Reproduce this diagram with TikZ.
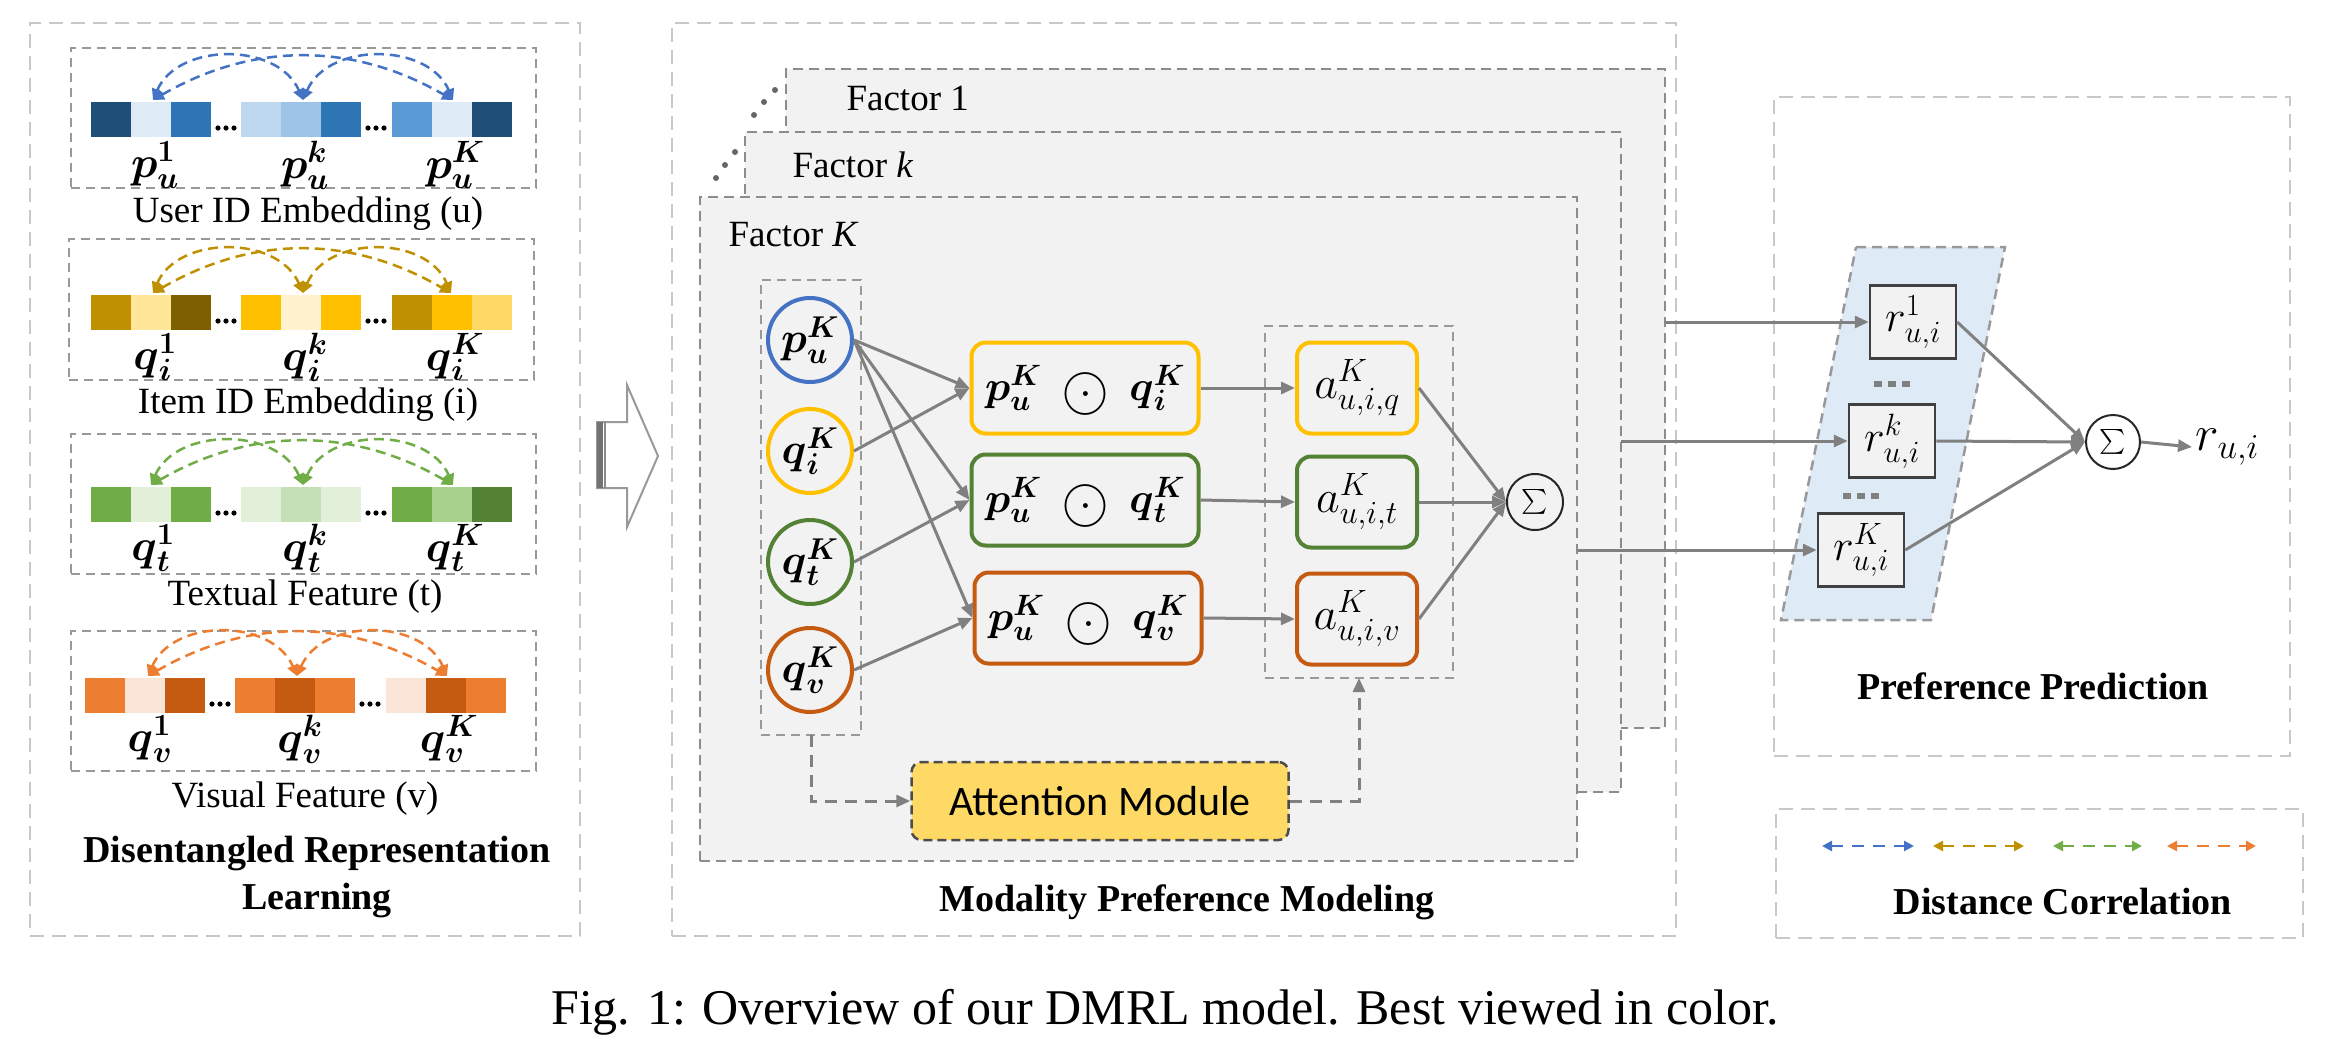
\RequirePackage{fix-cm}
\documentclass[tikz,border=0pt]{standalone}
\usepackage{amsmath}
\usepackage{fontspec}
\setmainfont{Liberation Serif}
\newfontfamily\attnfont{Carlito}
\usetikzlibrary{arrows.meta,calc}

\definecolor{blueA}{HTML}{4472C4}
\definecolor{navy}{HTML}{1F4E79}
\definecolor{blueM}{HTML}{2E75B6}
\definecolor{blueLL}{HTML}{DEEBF7}
\definecolor{blueL}{HTML}{BDD7EE}
\definecolor{blueL3}{HTML}{9DC3E6}
\definecolor{blueM2}{HTML}{5B9BD5}
\definecolor{goldD}{HTML}{BF9000}
\definecolor{goldY}{HTML}{FFC000}
\definecolor{goldL}{HTML}{FFE699}
\definecolor{goldLL}{HTML}{FFF2CC}
\definecolor{goldDD}{HTML}{7F6000}
\definecolor{goldM}{HTML}{FFD966}
\definecolor{grnA}{HTML}{70AD47}
\definecolor{grnLL}{HTML}{E2F0D9}
\definecolor{grnL}{HTML}{C5E0B4}
\definecolor{grnM}{HTML}{A9D18E}
\definecolor{grnD}{HTML}{548235}
\definecolor{orA}{HTML}{ED7D31}
\definecolor{orLL}{HTML}{FBE5D6}
\definecolor{orD}{HTML}{C55A11}
\definecolor{lineg}{HTML}{808080}
\definecolor{dashg}{HTML}{999999}
\definecolor{panelg}{HTML}{C8C8C8}
\definecolor{factfill}{HTML}{F2F2F2}
\definecolor{factdraw}{HTML}{8C8C8C}
\definecolor{attfill}{HTML}{FFD966}

\newcommand{\bsym}[3]{\boldsymbol{#1}_{\boldsymbol{#2}}^{\boldsymbol{#3}}}
\newcommand{\fsz}[1]{\fontsize{#1}{#1}\selectfont}
\newcommand{\bigdotcirc}{\mathbin{\vcenter{\hbox{\fsz{46}\ooalign{$\bigcirc$\cr\hidewidth$\cdot$\hidewidth\cr}}}}}
\newcommand{\blockrow}[3]{%
  \foreach \cc [count=\ii from 0] in {#3} {
    \pgfmathsetmacro{\xx}{#2 + 40*\ii + (\ii>2)*30 + (\ii>5)*31}
    \fill[\cc] (\xx,#1) rectangle ++(40,35);
  }
  \pgfmathsetmacro{\dA}{#2+135}
  \pgfmathsetmacro{\dB}{#2+285}
  \foreach \dd in {-8,0,8} {
    \fill[black] (\dA+\dd,#1+26) circle (2.6pt);
    \fill[black] (\dB+\dd,#1+26) circle (2.6pt);
  }
}

\begin{document}
\begin{tikzpicture}[x=1pt,y=-1pt,
  panel/.style={draw=panelg,line width=2pt,dash pattern=on 14pt off 8pt,inner sep=0pt,outer sep=0pt},
  subbox/.style={draw=dashg,line width=2.5pt,dash pattern=on 9pt off 6pt,inner sep=0pt,outer sep=0pt},
  factbox/.style={draw=factdraw,fill=factfill,line width=2.5pt,dash pattern=on 10pt off 6pt,inner sep=0pt,outer sep=0pt},
  arcline/.style={line width=2.5pt,dash pattern=on 10pt off 6pt,{Triangle[length=11pt,width=11pt]}-{Triangle[length=11pt,width=11pt]}},
  circ/.style={circle,line width=4pt,minimum size=84pt,inner sep=0pt,font=\fsz{43}},
  prodbox/.style={rounded corners=14pt,line width=4pt,minimum width=227pt,minimum height=91pt,inner sep=0pt,font=\fsz{42}},
  abox/.style={rounded corners=14pt,line width=4pt,minimum width=120pt,minimum height=91pt,inner sep=0pt,font=\fsz{46}},
  rbox/.style={draw=black!75,fill=factfill,line width=2.5pt,minimum width=86pt,minimum height=73pt,inner sep=0pt,font=\fsz{44}},
  sigma/.style={circle,draw=black!85,line width=2pt,inner sep=0pt,font=\fsz{32}},
  garrow/.style={draw=lineg,line width=3pt,-{Triangle[length=14pt,width=12pt]}},
  gdash/.style={draw=lineg,line width=3pt,dash pattern=on 12pt off 8pt,-{Triangle[length=14pt,width=12pt]}},
  legarrow/.style={line width=2.5pt,dash pattern=on 12pt off 9pt,{Triangle[length=10pt,width=10pt]}-{Triangle[length=10pt,width=10pt]}},
  title/.style={font=\fontsize{38}{47}\selectfont\bfseries,align=center},
  rowcap/.style={font=\fsz{37},inner sep=0pt},
  emblabel/.style={font=\fsz{44},inner sep=0pt}
]
\useasboundingbox (0,0) rectangle (2330,1050);
\fill[white] (0,0) rectangle (2330,1050);

% ================= LEFT PANEL =================
\node[panel,minimum width=550pt,minimum height=913pt] (lp) at (305,479.5) {};
\node[subbox,minimum width=465pt,minimum height=140pt] (sb1) at (303.5,118) {};
\node[subbox,minimum width=465pt,minimum height=141pt] (sb2) at (301.5,309.5) {};
\node[subbox,minimum width=465pt,minimum height=140pt] (sb3) at (303.5,504) {};
\node[subbox,minimum width=465pt,minimum height=140pt] (sb4) at (303.5,701) {};

\blockrow{102}{91}{navy,blueLL,blueM,blueL,blueL3,blueM,blueM2,blueLL,navy}
\blockrow{295}{91}{goldD,goldL,goldDD,goldY,goldLL,goldY,goldD,goldY,goldM}
\blockrow{487}{91}{grnA,grnLL,grnA,grnLL,grnL,grnLL,grnA,grnM,grnD}
\blockrow{678}{85}{orA,orLL,orD,orA,orD,orA,orLL,orD,orA}

% arc end points
\coordinate (u1) at (153,100); \coordinate (uk) at (303,100); \coordinate (uK) at (453,100);
\coordinate (i1) at (153,293); \coordinate (ik) at (303,293); \coordinate (iK) at (451,293);
\coordinate (t1) at (151,485); \coordinate (tk) at (303,485); \coordinate (tK) at (453,485);
\coordinate (v1) at (148,676); \coordinate (vk) at (297,676); \coordinate (vK) at (447,676);
\foreach \r/\col in {u/blueA,i/goldD,t/grnA,v/orA} {
  \draw[arcline,\col] (\r1) .. controls ($(\r1)+(25,-58)$) and ($(\r k)+(-25,-58)$) .. (\r k);
  \draw[arcline,\col] (\r k) .. controls ($(\r k)+(25,-58)$) and ($(\r K)+(-25,-58)$) .. (\r K);
  \draw[arcline,\col] (\r1) .. controls ($(\r1)+(100,-58)$) and ($(\r K)+(-100,-58)$) .. (\r K);
}

\node[emblabel] (lu1) at (155,165) {$\bsym{p}{u}{1}$};
\node[emblabel] (luk) at (305,165) {$\bsym{p}{u}{k}$};
\node[emblabel] (luK) at (455,165) {$\bsym{p}{u}{K}$};
\node[emblabel] (li1) at (155,357) {$\bsym{q}{i}{1}$};
\node[emblabel] (lik) at (305,357) {$\bsym{q}{i}{k}$};
\node[emblabel] (liK) at (455,357) {$\bsym{q}{i}{K}$};
\node[emblabel] (lt1) at (153,548) {$\bsym{q}{t}{1}$};
\node[emblabel] (ltk) at (305,548) {$\bsym{q}{t}{k}$};
\node[emblabel] (ltK) at (455,548) {$\bsym{q}{t}{K}$};
\node[emblabel] (lv1) at (150,739) {$\bsym{q}{v}{1}$};
\node[emblabel] (lvk) at (300,739) {$\bsym{q}{v}{k}$};
\node[emblabel] (lvK) at (449,739) {$\bsym{q}{v}{K}$};

\node[rowcap] (c1) at (308,214) {User ID Embedding (u)};
\node[rowcap] (c2) at (308,405) {Item ID Embedding (i)};
\node[rowcap] (c3) at (305,597) {Textual Feature (t)};
\node[rowcap] (c4) at (305,799) {Visual Feature (v)};
\node[title] (ltitle) at (317,877) {Disentangled Representation\\Learning};

% hollow arrow
\filldraw[fill=white,draw=dashg,line width=2pt,line join=miter]
  (597,422) -- (627,422) -- (627,385) -- (658,456) -- (627,527) -- (627,488) -- (597,488) -- cycle;
\fill[black!55] (597,422) rectangle (603,488);
\fill[black!45] (604,422) rectangle (606,488);

% ================= MIDDLE PANEL =================
\node[panel,minimum width=1004pt,minimum height=913pt] (mp) at (1174,479.5) {};
\node[factbox,minimum width=879pt,minimum height=659pt] (f1) at (1225.5,398.5) {};
\node[factbox,minimum width=876pt,minimum height=660pt] (fk) at (1183,462) {};
\node[factbox,minimum width=877pt,minimum height=664pt] (fK) at (1138.5,529) {};
\foreach \px/\py in {754/115,764/102,775/90,716/178,725/165,735/152}
  \fill[black!60] (\px,\py) circle (3pt);
\node[anchor=west,font=\fsz{37}] (lf1) at (843,98) {Factor 1};
\node[anchor=west,font=\fsz{37}] (lfk) at (789,165) {Factor \textit{k}};
\node[anchor=west,font=\fsz{37}] (lfK) at (725,235) {Factor \textit{K}};

\node[subbox,minimum width=100pt,minimum height=455pt] (colbox) at (811,507.5) {};
\node[subbox,minimum width=188pt,minimum height=352pt] (acol) at (1359,502) {};

\node[circ,draw=blueA] (cp) at (810,340) {$\bsym{p}{u}{K}$};
\node[circ,draw=goldY] (ci) at (810,451) {$\bsym{q}{i}{K}$};
\node[circ,draw=grnD] (ct) at (810,562) {$\bsym{q}{t}{K}$};
\node[circ,draw=orD] (cv) at (810,670) {$\bsym{q}{v}{K}$};

\node[prodbox,draw=goldY] (m1) at (1085,388) {$\bsym{p}{u}{K}\;\bigdotcirc\;\bsym{q}{i}{K}$};
\node[prodbox,draw=grnD] (m2) at (1085,500) {$\bsym{p}{u}{K}\;\bigdotcirc\;\bsym{q}{t}{K}$};
\node[prodbox,draw=orD] (m3) at (1088,618) {$\bsym{p}{u}{K}\;\bigdotcirc\;\bsym{q}{v}{K}$};

\node[abox,draw=goldY] (a1) at (1357,388) {$a^{K}_{u,i,q}$};
\node[abox,draw=grnD] (a2) at (1357,502) {$a^{K}_{u,i,t}$};
\node[abox,draw=orD] (a3) at (1357,619) {$a^{K}_{u,i,v}$};

\node[sigma,minimum size=56pt] (s1) at (1535,502) {$\textstyle\sum$};

\draw[garrow] (cp.east) -- (m1.west);
\draw[garrow] (cp.east) -- (m2.west);
\draw[garrow] (cp.east) -- (m3.west);
\draw[garrow] (ci.east) -- (m1.west);
\draw[garrow] (ct.east) -- (m2.west);
\draw[garrow] (cv.east) -- (m3.west);
\draw[garrow] (m1.east) -- (a1.west);
\draw[garrow] (m2.east) -- (a2.west);
\draw[garrow] (m3.east) -- (a3.west);
\draw[garrow] (a1.east) -- (s1.west);
\draw[garrow] (a2.east) -- (s1.west);
\draw[garrow] (a3.east) -- (s1.west);

\node[draw=black!70,fill=attfill,line width=2.5pt,dash pattern=on 9pt off 5pt,rounded corners=10pt,
      minimum width=377pt,minimum height=78pt,inner sep=0pt,font=\attnfont\fsz{42}] (att) at (1100,801) {Attention Module};
\draw[gdash] (colbox.south) |- (att.west);
\draw[gdash] (att.east) -| (acol.south);

\node[title] (mtitle) at (1187,902) {Modality Preference Modeling};

% ================= RIGHT PANEL =================
\node[panel,minimum width=516pt,minimum height=659pt] (rp) at (2032,426.5) {};
\filldraw[fill=blueLL,draw=dashg,line width=2.5pt,dash pattern=on 10pt off 6pt]
  (1856,247) -- (2005,247) -- (1931,620) -- (1781,620) -- cycle;

\node[rbox] (r1) at (1913,322) {$r^{1}_{u,i}$};
\node[rbox] (rk) at (1892,441) {$r^{k}_{u,i}$};
\node[rbox] (rK) at (1861,550) {$r^{K}_{u,i}$};
\foreach \dd in {-14,0,14} {
  \fill[lineg] (1892+\dd-4,381) rectangle ++(8,6);
  \fill[lineg] (1861+\dd-4,493) rectangle ++(8,6);
}
\node[sigma,minimum size=54pt] (s2) at (2113,442) {$\textstyle\sum$};
\node[anchor=west,font=\fsz{50}] (rout) at (2192,447) {$r_{u,i}$};

\draw[garrow] (r1.west -| f1.east) -- (r1.west);
\draw[garrow] (rk.west -| fk.east) -- (rk.west);
\draw[garrow] (rK.west -| fK.east) -- (rK.west);
\draw[garrow] (r1.east) -- (s2.west);
\draw[garrow] (rk.east) -- (s2.west);
\draw[garrow] (rK.east) -- (s2.west);
\draw[garrow] (s2.east) -- (rout.west);

\node[title] (rtitle) at (2033,686) {Preference Prediction};

\node[panel,minimum width=527pt,minimum height=129pt] (dp) at (2039.5,873.5) {};
\coordinate (b1) at (1822,846); \coordinate (b2) at (1914,846);
\coordinate (g1) at (1933,846); \coordinate (g2) at (2024,846);
\coordinate (n1) at (2053,846); \coordinate (n2) at (2142,846);
\coordinate (o1) at (2167,846); \coordinate (o2) at (2256,846);
\draw[legarrow,blueA] (b1) -- (b2);
\draw[legarrow,goldD] (g1) -- (g2);
\draw[legarrow,grnA] (n1) -- (n2);
\draw[legarrow,orA] (o1) -- (o2);
\node[title] (dtitle) at (2063,901) {Distance Correlation};

% caption
\node[font=\fsz{50}] (caption) at (1165,1012) {Fig. 1: Overview of our DMRL model. Best viewed in color.};
\end{tikzpicture}
\end{document}
